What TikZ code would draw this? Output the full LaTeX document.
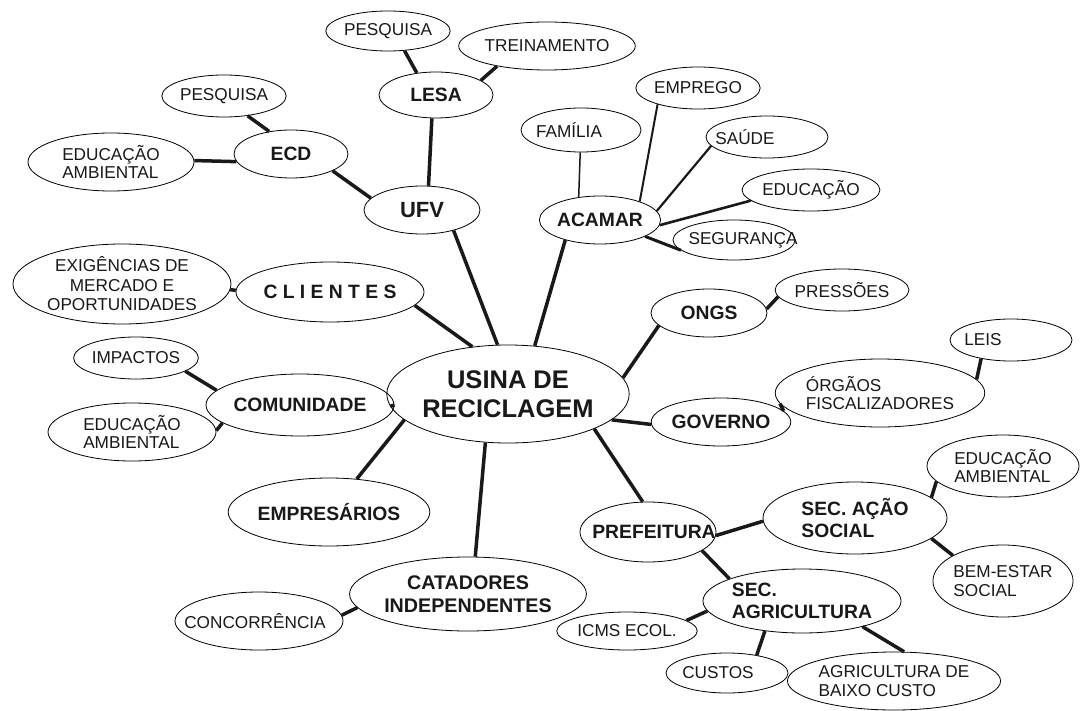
\documentclass[tikz,border=0pt]{standalone}
\usepackage{fontspec}
\setmainfont{Liberation Sans}
\usetikzlibrary{shapes.geometric}
% text centred at half the given offset from the node centre
\newcommand{\txsh}[2]{\makebox[0pt]{\hspace{#1}#2}}
\tikzset{
  ell/.style={ellipse, draw=black, line width=0.8pt, inner sep=0pt,
    text=black!90, font=\fontsize{17.2}{18.5}\selectfont},
  bell/.style={ell, font=\fontsize{19.3}{22.5}\bfseries\selectfont},
  sz/.style 2 args={minimum width=#1pt, minimum height=#2pt},
  conn/.style={line width=3.5pt, draw=black!90},
  lconn/.style={line width=#1, draw=black!90},
}
\begin{document}
\begin{tikzpicture}[x=1pt,y=-1pt]
\useasboundingbox[fill=white] (0,0) rectangle (1083,711);

% ---------- nodes ----------
\node[ell, sz={120}{40}] (pesqA) at (388,31) {PESQUISA};
\node[ell, sz={144}{48}] (trein) at (547,46) {TREINAMENTO};
\node[bell, sz={114}{46}] (lesa) at (436,95) {LESA};
\node[ell, sz={122}{42}] (pesqB) at (224,96) {PESQUISA};
\node[ell, sz={166}{58}, align=left] (eduA) at (111,162) {EDUCAÇÃO\\AMBIENTAL};
\node[bell, sz={114}{48}] (ecd) at (291,154) {ECD};
\node[bell, sz={116}{48}, font=\fontsize{22}{24}\bfseries\selectfont] (ufv) at (422,210) {UFV};

\node[ell, sz={120}{42}] (emprego) at (698,88) {EMPREGO};
\node[ell, sz={120}{44}] (familia) at (581,130) {\txsh{-24pt}{FAMÍLIA}};
\node[ell, sz={122}{42}] (saude) at (767,137) {\txsh{-44pt}{SAÚDE}};
\node[ell, sz={122}{42}] (educ) at (811,190) {EDUCAÇÃO};
\node[bell, sz={114}{48}] (acamar) at (600,220) {ACAMAR};
\node[ell, sz={122}{40}] (seg) at (734,240) {\txsh{18pt}{SEGURANÇA}};

\node[ell, sz={218}{80}, align=center, font=\fontsize{17.2}{19.5}\selectfont] (exig) at (122,284) {EXIGÊNCIAS DE\\MERCADO E\\OPORTUNIDADES};
\node[bell, sz={144}{60}] (clientes) at (330,292) {C L I E N T E S};
\node[ell, sz={122}{42}] (impactos) at (136,358) {IMPACTOS};
\node[bell, sz={150}{62}] (comunidade) at (300,405) {COMUNIDADE};
\node[ell, sz={168}{58}, align=left] (eduB) at (132,432) {EDUCAÇÃO\\AMBIENTAL};

\node[bell, sz={204}{98}, align=center, font=\fontsize{25.5}{28.5}\bfseries\selectfont] (usina) at (508,394) {USINA DE\\RECICLAGEM};

\node[ell, sz={120}{42}] (pressoes) at (842,290) {PRESSÕES};
\node[bell, sz={116}{48}] (ongs) at (709,313) {ONGS};
\node[ell, sz={122}{42}] (leis) at (1011,340) {\txsh{-56pt}{LEIS}};
\node[ell, sz={186}{68}, align=left] (orgaos) at (880,393) {ÓRGÃOS\\FISCALIZADORES};
\node[bell, sz={118}{48}] (governo) at (721,422) {GOVERNO};
\node[ell, sz={152}{62}, align=left] (eduC) at (1003,466) {EDUCAÇÃO\\AMBIENTAL};

\node[bell, sz={162}{68}] (empresarios) at (329,512) {EMPRESÁRIOS};
\node[bell, sz={184}{74}, align=center, font=\fontsize{19.7}{22.5}\bfseries\selectfont] (catadores) at (468,594) {CATADORES\\INDEPENDENTES};
\node[ell, sz={168}{58}] (conc) at (259,621) {\txsh{-8pt}{CONCORRÊNCIA}};

\node[bell, sz={136}{60}] (prefeitura) at (648,532) {\txsh{12pt}{PREFEITURA}};
\node[bell, sz={184}{72}, align=left] (secacao) at (855,518) {SEC. AÇÃO\\SOCIAL};
\node[ell, sz={122}{72}, align=left] (bemestar) at (1003,581) {BEM-ESTAR\\SOCIAL};
\node[bell, sz={184}{64}, align=left] (secagri) at (802,601) {SEC.\\AGRICULTURA};
\node[ell, sz={120}{38}] (icms) at (627,631) {ICMS ECOL.};
\node[ell, sz={122}{40}] (custos) at (727,673) {\txsh{-18pt}{CUSTOS}};
\node[ell, sz={188}{58}, align=left] (agri) at (894,681) {AGRICULTURA DE\\BAIXO CUSTO};

% ---------- connectors ----------
\draw[conn] (pesqA.-50) -- (lesa.131);
\draw[conn] (trein.202) -- (lesa.18);
\draw[conn] (pesqB.-40) -- (ecd.134);
\draw[conn] (eduA.1) -- (ecd.188);
\draw[conn] (ecd.-22) -- (ufv.167);
\draw[conn] (lesa.-100) -- (ufv.75);
\draw[conn] (ufv.-33) -- (usina.102);
\draw[conn] (acamar.210) -- (usina.61);
\draw[conn] (clientes.-9) -- (usina.127);
\draw[conn] (exig.-3) -- (clientes.179);
\draw[conn] (impactos.-15) -- (comunidade.170);
\draw[conn] (eduB.1) -- (comunidade.193);
\draw[conn] (comunidade.0) -- (usina.186);
\draw[conn] (usina.194) -- (empresarios.50);
\draw[conn] (usina.-115) -- (catadores.79);
\draw[conn] (conc.4) -- (catadores.187);
\draw[conn] (usina.8) -- (ongs.194);
\draw[conn] (ongs.4) -- (pressoes.186);
\draw[conn] (usina.-14) -- (governo.182);
\draw[conn] (governo.10) -- (orgaos.186);
\draw[conn] (orgaos.8) -- (leis.212);
\draw[conn] (usina.-22) -- (prefeitura.100);
\draw[conn] (prefeitura.-3) -- (secacao.182);
\draw[conn] (secacao.15) -- (eduC.193);
\draw[conn] (secacao.-15) -- (bemestar.153);
\draw[conn] (prefeitura.-19) -- (secagri.163);
\draw[conn] (secagri.186) -- (icms.10);
\draw[conn] (secagri.219) -- (custos.31);
\draw[conn] (secagri.-23) -- (agri.71);

\draw[lconn=1.5pt] (familia.-92) -- (acamar.133);
\draw[lconn=2pt] (emprego.202) -- (acamar.25);
\draw[lconn=2.2pt] (saude.189) -- (acamar.9);
\draw[lconn=2.6pt] (educ.190) -- (acamar.-5);
\draw[lconn=3pt] (seg.191) -- (acamar.-20);
\end{tikzpicture}
\end{document}
